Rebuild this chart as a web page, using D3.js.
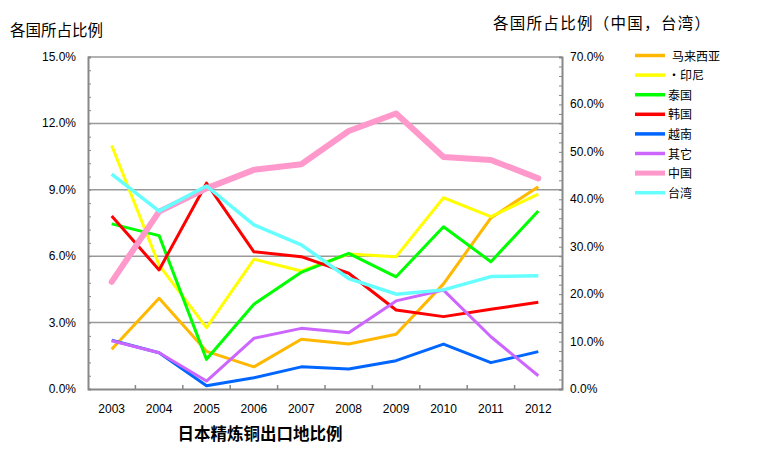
<!DOCTYPE html>
<html>
<head>
<meta charset="utf-8">
<script src="https://cdn.jsdelivr.net/npm/d3@7"></script>
<style>
  body { margin: 0; background: #fff; }
  text { font-family: "Liberation Sans", Arial, "Noto Sans CJK SC", sans-serif; }
  .cjk { font-family: "Noto Sans CJK SC", sans-serif; }
</style>
</head>
<body>
<svg class="chart" width="758" height="474"></svg>
<script>
// data
var years = ["2003", "2004", "2005", "2006", "2007", "2008", "2009", "2010", "2011", "2012"];
var leftTicks = [0, 3, 6, 9, 12, 15];
var rightTicks = [0, 10, 20, 30, 40, 50, 60, 70];

var malaysia  = [1.8, 4.1, 1.7, 1.0, 2.25, 2.03, 2.47, 4.75, 7.73, 9.14];
var indonesia = [11.0, 5.6, 2.77, 5.86, 5.33, 6.1, 5.98, 8.64, 7.79, 8.8];
var thailand  = [7.46, 6.93, 1.34, 3.83, 5.27, 6.13, 5.07, 7.33, 5.75, 8.04];
var korea     = [7.82, 5.38, 9.3, 6.2, 5.98, 5.23, 3.57, 3.27, 3.6, 3.92];
var vietnam   = [2.2, 1.64, 0.15, 0.51, 1.0, 0.9, 1.28, 2.03, 1.19, 1.69];
var others    = [2.18, 1.64, 0.36, 2.29, 2.74, 2.54, 3.98, 4.47, 2.36, 0.6];
// right axis
var china     = [22.6, 37.4, 42.3, 46.2, 47.4, 54.4, 58.1, 48.9, 48.3, 44.4];
var taiwan    = [45.3, 37.5, 42.8, 34.6, 30.4, 23.3, 20.0, 20.9, 23.7, 23.9];

var series = [
  { name: "马来西亚", values: malaysia,  color: "#FFB800", w: 3,   axis: "L" },
  { name: "·印尼",    values: indonesia, color: "#FFFF00", w: 3,   axis: "L" },
  { name: "泰国",     values: thailand,  color: "#00FF00", w: 3,   axis: "L" },
  { name: "韩国",     values: korea,     color: "#FF0000", w: 3,   axis: "L" },
  { name: "越南",     values: vietnam,   color: "#0066FF", w: 3,   axis: "L" },
  { name: "其它",     values: others,    color: "#CC66FF", w: 3,   axis: "L" },
  { name: "中国",     values: china,     color: "#FF99CC", w: 6,   axis: "R" },
  { name: "台湾",     values: taiwan,    color: "#66FFFF", w: 3.5, axis: "R" }
];

var svg = d3.select(".chart");
var pLeft = 88, pRight = 562, pTop = 57, pBottom = 389;

var x = d3.scaleBand().domain(years).range([pLeft, pRight]);
var yL = d3.scaleLinear().domain([0, 15]).range([pBottom, pTop]);
var yR = d3.scaleLinear().domain([0, 70]).range([pBottom, pTop]);

// gridlines
svg.append("g").selectAll("line")
  .data(leftTicks.slice(1))
  .enter().append("line")
  .attr("x1", pLeft).attr("x2", pRight)
  .attr("y1", d => yL(d)).attr("y2", d => yL(d))
  .attr("stroke", "#999").attr("stroke-width", 1.5);

// left axis
var gL = svg.append("g").attr("transform", "translate(" + pLeft + ",0)")
  .call(d3.axisLeft(yL).tickValues(d3.range(0, 15.01, 0.6)).tickSize(-3).tickFormat(""));
gL.select(".domain").attr("stroke", "#888").attr("stroke-width", 2);
gL.selectAll(".tick line").attr("stroke", "#888");
svg.append("g").selectAll("text")
  .data(leftTicks)
  .enter().append("text")
  .attr("x", 76).attr("y", d => yL(d) + 4)
  .attr("text-anchor", "end")
  .attr("font-size", 12)
  .text(d => d.toFixed(1) + "%");

// right axis
var gR = svg.append("g").attr("transform", "translate(" + pRight + ",0)")
  .call(d3.axisRight(yR).tickValues(d3.range(0, 70.01, 2)).tickSize(-3).tickFormat(""));
gR.select(".domain").attr("stroke", "#888").attr("stroke-width", 2);
gR.selectAll(".tick line").attr("stroke", "#888");
svg.append("g").selectAll("text")
  .data(rightTicks)
  .enter().append("text")
  .attr("x", 570).attr("y", d => yR(d) + 4)
  .attr("font-size", 12)
  .text(d => d.toFixed(1) + "%");

// bottom axis
var gB = svg.append("g").attr("transform", "translate(0," + pBottom + ")")
  .call(d3.axisBottom(x).tickSize(0).tickFormat(""));
gB.select(".domain").attr("stroke", "#888").attr("stroke-width", 2);
svg.append("g").selectAll("line")
  .data(years.slice(1))
  .enter().append("line")
  .attr("x1", d => x(d)).attr("x2", d => x(d))
  .attr("y1", pBottom).attr("y2", pBottom - 4)
  .attr("stroke", "#888").attr("stroke-width", 1.5);
svg.append("g").selectAll("text")
  .data(years)
  .enter().append("text")
  .attr("x", d => x(d) + x.bandwidth() / 2).attr("y", 413)
  .attr("text-anchor", "middle")
  .attr("font-size", 12)
  .text(d => d);

// lines
series.forEach(function(s) {
  var ys = s.axis === "L" ? yL : yR;
  var line = d3.line()
    .x((d, i) => x(years[i]) + x.bandwidth() / 2)
    .y(d => ys(d));
  svg.append("path")
    .datum(s.values)
    .attr("d", line)
    .attr("fill", "none")
    .attr("stroke", s.color)
    .attr("stroke-width", s.w)
    .attr("stroke-linejoin", "round")
    .attr("stroke-linecap", s.w > 5 ? "round" : "butt");
});

// titles
svg.append("text").attr("class", "cjk")
  .attr("x", 10).attr("y", 36).attr("font-size", 15.5)
  .text("各国所占比例");
svg.append("text").attr("class", "cjk")
  .attr("x", 493).attr("y", 29).attr("font-size", 15.5)
  .attr("textLength", 217)
  .text("各国所占比例（中国，台湾）");
svg.append("text").attr("class", "cjk")
  .attr("x", 260).attr("y", 440).attr("font-size", 16.5)
  .attr("font-weight", "bold")
  .attr("text-anchor", "middle")
  .text("日本精炼铜出口地比例");

// legend
var lg = svg.append("g").selectAll("g")
  .data(series)
  .enter().append("g")
  .attr("transform", (d, i) => "translate(635," + (55.5 + i * 19.6) + ")");
lg.append("line")
  .attr("x1", 0).attr("x2", 30)
  .attr("stroke", d => d.color)
  .attr("stroke-width", d => d.w > 5 ? 5 : 3.5);
lg.append("text").attr("class", "cjk")
  .attr("x", d => d.name === "马来西亚" ? 37 : 33).attr("y", 5)
  .attr("font-size", 12)
  .text(d => d.name);
</script>
</body>
</html>
